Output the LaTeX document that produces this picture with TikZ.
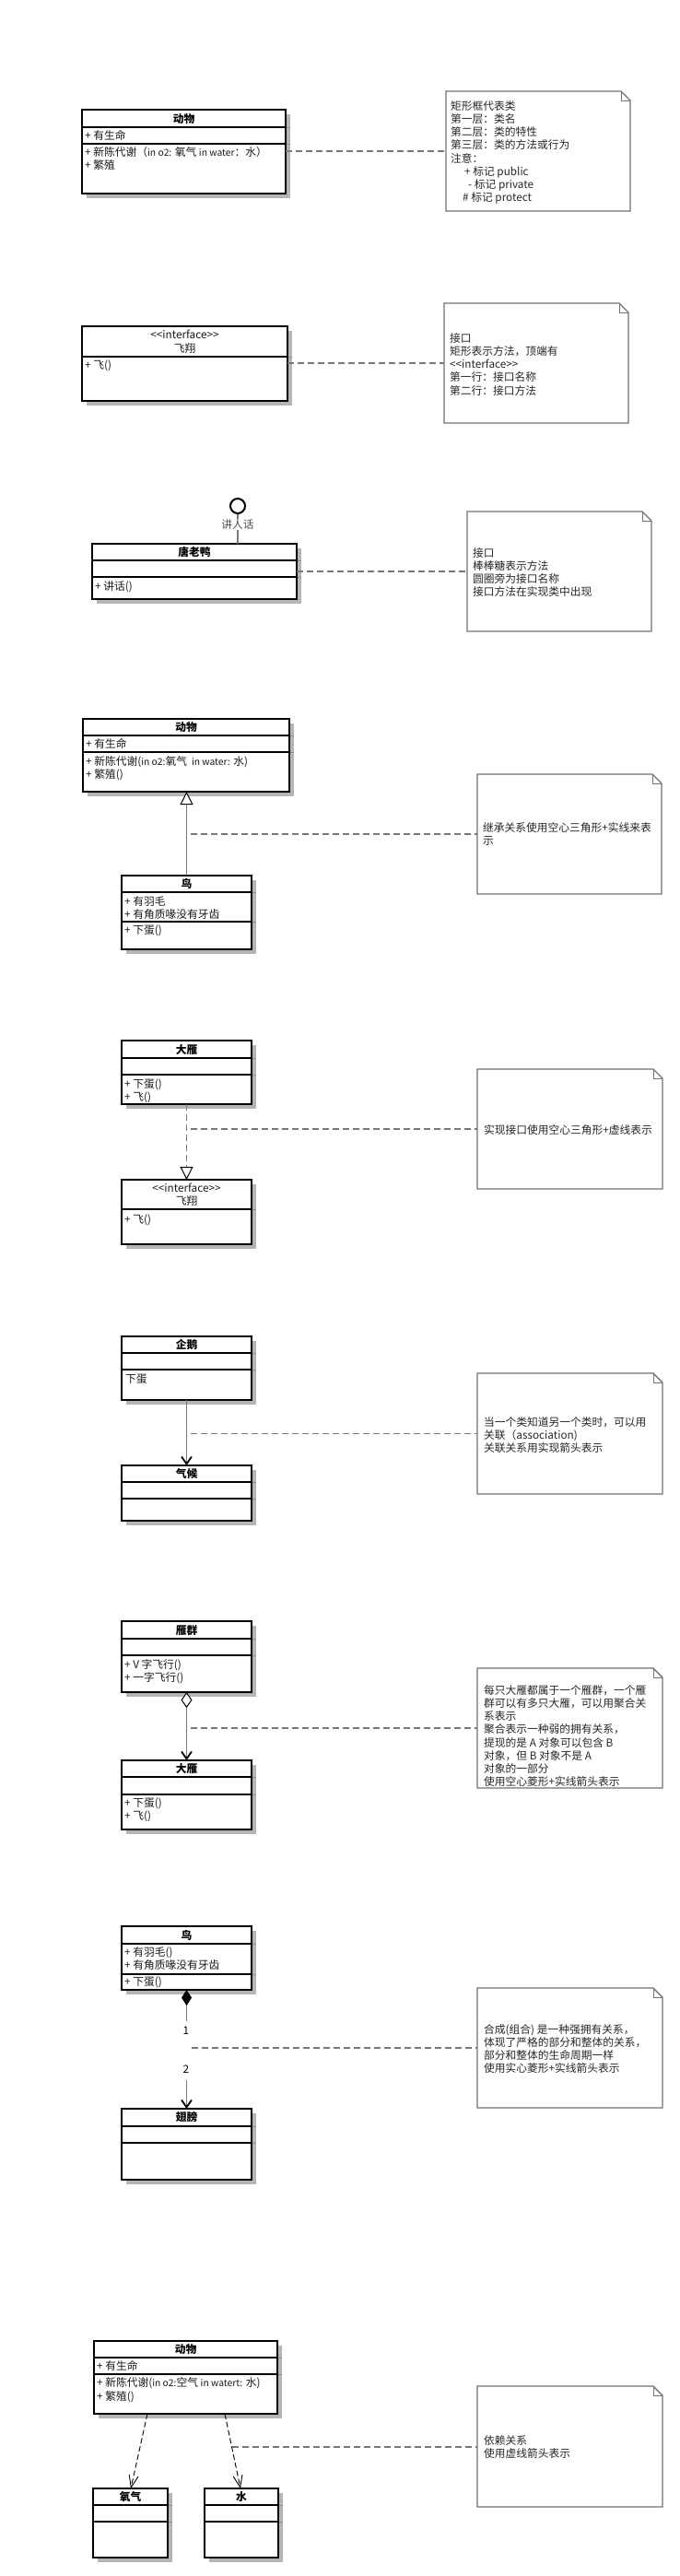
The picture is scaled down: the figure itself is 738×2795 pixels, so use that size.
\documentclass[tikz,border=0pt]{standalone}
\usepackage{fontspec}
\newfontfamily\cjk{Noto Sans CJK SC}
\usetikzlibrary{arrows.meta,shadows,calc}
\definecolor{shd}{gray}{0.71}
\definecolor{lnk}{gray}{0.47}
\definecolor{stubc}{gray}{0.55}
\newcount\tcnt
\tikzset{
  cls/.style={draw=black, line width=2.2pt, fill=white, inner sep=0pt, outer sep=0pt,
    drop shadow={shadow xshift=5pt, shadow yshift=-5pt, fill=shd, opacity=1, draw=none}},
  divider/.style={draw=black, line width=1.7pt},
  stub/.style={draw=stubc, line width=1pt},
  ctxt/.style={inner sep=0pt, font=\cjk\fontsize{11.75}{14}\selectfont, text=black!90},
  ttl/.style={inner sep=0pt, font=\cjk\bfseries\fontsize{11.75}{14}\selectfont, text=black},
  ntxt/.style={inner sep=0pt, font=\cjk\fontsize{11.75}{14}\selectfont, text=black!85},
  notebox/.style={inner sep=0pt, outer sep=0pt, draw=none},
  noteline/.style={draw=black!55, line width=1.4pt, line join=miter},
  foldline/.style={draw=black!55, line width=0.9pt},
  notelink/.style={draw=lnk, line width=1.7pt, dash pattern=on 7pt off 4pt},
  rel/.style={draw=lnk, line width=1.7pt},
  hollowtri/.style={-{Triangle[color=black, fill=white, line width=1pt, length=14pt, width=14pt]}},
  barb/.style={-{Straight Barb[color=black, line width=1.8pt, length=8pt, width=11pt]}},
  dep/.style={draw=black, line width=0.9pt, dash pattern=on 6pt off 3pt,
    -{Straight Barb[line width=0.9pt, length=13pt, width=10pt]}},
}
\newcommand\umlclass[6]{%
  \pgfmathsetmacro\bw{#4-#2}\pgfmathsetmacro\bh{#5-#3}%
  \node[cls, minimum width=\bw pt, minimum height=\bh pt, anchor=north west] (#1) at (#2,#3) {};
  \foreach \dy in {#6}{\draw[divider] (#2,\dy) -- (#4,\dy); \draw[stub] ({#4+1.1},\dy) -- ({#4+5},\dy);}%
}
\newcommand\ctl[3]{\global\advance\tcnt by 1 \node[ctxt, anchor=base west] (txt\the\tcnt) at (#1,{#2+4.4}) {#3};}
\newcommand\ctc[3]{\global\advance\tcnt by 1 \node[ctxt, anchor=base] (txt\the\tcnt) at (#1,{#2+4.4}) {#3};}
\newcommand\ctt[3]{\global\advance\tcnt by 1 \node[ttl, anchor=base] (txt\the\tcnt) at (#1,{#2+4.4}) {#3};}
\newcommand\umlnote[5]{%
  \pgfmathsetmacro\bw{#4-#2}\pgfmathsetmacro\bh{#5-#3}%
  \node[notebox, minimum width=\bw pt, minimum height=\bh pt, anchor=north west] (#1) at (#2,#3) {};
  \draw[noteline] (#1.north west) -- ([xshift=-10pt]#1.north east) -- ([yshift=-10pt]#1.north east) -- (#1.south east) -- (#1.south west) -- cycle;
  \draw[foldline] ([xshift=-10pt]#1.north east) |- ([yshift=-10pt]#1.north east);
}
\newcommand\notetext[3]{\foreach \ln [count=\i from 0] in {#3}{\global\advance\tcnt by 1 \node[ntxt, anchor=base west] (txt\the\tcnt) at (#1,{#2+4.4+14.15*\i}) {\ln};}}
\newcommand\sm[1]{{\fontsize{10.3}{14}\selectfont #1}}

\begin{document}
\begin{tikzpicture}[x=1pt, y=-1pt]
\fill[white] (0,0) rectangle (738,2795);
\useasboundingbox (0,0) rectangle (738,2795);

% ---------- Section 1: class ----------
\umlclass{animalA}{89}{119}{310}{210}{138,156}
\ctt{199.5}{129}{动物}
\ctl{92}{147}{+ 有生命}
\ctl{92}{165}{+ 新陈代谢（\sm{in o2:} 氧气 \sm{in water}：水）}
\ctl{92}{179}{+ 繁殖}
\umlnote{noteA}{484}{99}{684}{229}
\notetext{489}{115}{矩形框代表类, 第一层：类名, 第二层：类的特性, 第三层：类的方法或行为, 注意：, \hspace*{15pt}+ 标记 public, \hspace*{19pt}- 标记 private, \hspace*{13pt}\# 标记 protect}
\draw[notelink] (animalA.east |- noteA.west) -- (noteA.west);

% ---------- Section 2: interface ----------
\umlclass{flyA}{89}{354}{312}{435}{387}
\ctc{200.5}{363}{<{}<interface>{}>}
\ctc{200.5}{378}{飞翔}
\ctl{92}{396}{+ 飞()}
\umlnote{noteB}{482}{329}{682}{459}
\notetext{488}{367}{接口, 矩形表示方法，顶端有, <{}<interface>{}>, 第一行：接口名称, 第二行：接口方法}
\draw[notelink] (flyA.east |- noteB.west) -- (noteB.west);

% ---------- Section 3: lollipop ----------
\umlclass{tly}{100}{590}{322}{650}{608,626}
\ctt{211}{599}{唐老鸭}
\ctl{103}{636}{+ 讲话()}
\node[draw=black, line width=2pt, circle, minimum size=16pt, inner sep=0pt] (lolli) at (258,549) {};
\draw[rel] (lolli.south) -- (lolli.south |- tly.north);
\node[ctxt, fill=white, inner sep=0.5pt, text=black!70] (lbl) at (258,569) {讲人话};
\umlnote{noteC}{507}{555}{707}{685}
\notetext{513}{600}{接口, 棒棒糖表示方法, 圆圈旁为接口名称, 接口方法在实现类中出现}
\draw[notelink] (tly.east |- noteC.west) -- (noteC.west);

% ---------- Section 4: inheritance ----------
\umlclass{animalB}{90}{780}{314}{859}{798,816}
\ctt{202}{789}{动物}
\ctl{93}{807}{+ 有生命}
\ctl{93}{826}{+ 新陈代谢(\sm{in o2:}氧气 \sm{ in water:} 水)}
\ctl{93}{840}{+ 繁殖()}
\umlclass{birdA}{132}{950}{273}{1030}{968,1000}
\ctt{202.5}{959}{鸟}
\ctl{135}{978}{+ 有羽毛}
\ctl{135}{992}{+ 有角质喙没有牙齿}
\ctl{135}{1009}{+ 下蛋()}
\draw[rel, hollowtri] (birdA.north) -- (birdA.north |- animalB.south);
\umlnote{noteD}{518}{840}{718}{970}
\notetext{524}{898}{继承关系使用空心三角形+实线来表, 示}
\coordinate (sD) at ([xshift=4pt]birdA.north |- noteD.west);
\draw[notelink] (sD) -- (noteD.west);

% ---------- Section 5: realization ----------
\umlclass{gooseA}{132}{1129}{273}{1198}{1148,1166}
\ctt{202.5}{1139}{大雁}
\ctl{135}{1176}{+ 下蛋()}
\ctl{135}{1190}{+ 飞()}
\umlclass{flyB}{132}{1280}{273}{1350}{1312}
\ctc{202.5}{1289}{<{}<interface>{}>}
\ctc{202.5}{1303}{飞翔}
\ctl{135}{1323}{+ 飞()}
\draw[rel, dash pattern=on 7pt off 4pt, hollowtri] (gooseA.south) -- (flyB.north);
\umlnote{noteE}{518}{1160}{719}{1290}
\notetext{525}{1226}{实现接口使用空心三角形+虚线表示}
\coordinate (sE) at ([xshift=4pt]gooseA.south |- noteE.west);
\draw[notelink] (sE) -- (noteE.west);

% ---------- Section 6: association ----------
\umlclass{penguin}{132}{1450}{273}{1519}{1468,1486}
\ctt{202.5}{1459}{企鹅}
\ctl{136}{1496}{下蛋}
\umlclass{climate}{132}{1590}{273}{1650}{1608,1626}
\ctt{202.5}{1599}{气候}
\draw[rel, barb] (penguin.south) -- (climate.north);
\umlnote{noteF}{518}{1490}{719}{1621}
\notetext{525}{1543}{当一个类知道另一个类时，可以用, 关联（association), 关联关系用实现箭头表示}
\coordinate (sF) at ([xshift=4pt]penguin.south |- noteF.west);
\draw[notelink] (sF) -- (noteF.west);

% ---------- Section 7: aggregation ----------
\umlclass{flock}{132}{1759}{273}{1836}{1778,1796}
\ctt{202.5}{1769}{雁群}
\ctl{135}{1806}{+ V 字飞行()}
\ctl{135}{1820}{+ 一字飞行()}
\umlclass{gooseB}{132}{1910}{273}{1985}{1928,1947}
\ctt{202.5}{1919}{大雁}
\ctl{135}{1956}{+ 下蛋()}
\ctl{135}{1970}{+ 飞()}
\draw[rel, {Diamond[color=black, fill=white, line width=1pt, length=17pt, width=12pt]}-{Straight Barb[color=black, line width=1.8pt, length=8pt, width=11pt]}] (flock.south) -- (gooseB.north);
\umlnote{noteG}{518}{1810}{719}{1940}
\notetext{525}{1834}{每只大雁都属于一个雁群，一个雁, 群可以有多只大雁，可以用聚合关, 系表示, 聚合表示一种弱的拥有关系，, 提现的是 A 对象可以包含 B, 对象，但 B 对象不是 A, 对象的一部分, 使用空心菱形+实线箭头表示}
\coordinate (sG) at ([xshift=4pt]flock.south |- noteG.west);
\draw[notelink] (sG) -- (noteG.west);

% ---------- Section 8: composition ----------
\umlclass{birdB}{132}{2090}{273}{2159}{2109,2142}
\ctt{202.5}{2100}{鸟}
\ctl{135}{2118}{+ 有羽毛()}
\ctl{135}{2132}{+ 有角质喙没有牙齿}
\ctl{135}{2150}{+ 下蛋()}
\umlclass{wing}{132}{2288}{273}{2365}{2307,2325}
\ctt{202.5}{2297}{翅膀}
\coordinate (c1) at ([yshift=-34pt]birdB.south);
\coordinate (c2) at ([yshift=31pt]wing.north);
\draw[rel, {Diamond[color=black, line width=0.5pt, length=17pt, width=11pt]}-] (birdB.south) -- (c1);
\draw[rel, barb] (c2) -- (wing.north);
\node[ctxt, text=black] (m1) at (202,2203) {1};
\node[ctxt, text=black] (m2) at (202,2245) {2};
\umlnote{noteH}{518}{2157}{719}{2287}
\notetext{525}{2202}{合成(组合) 是一种强拥有关系，, 体现了严格的部分和整体的关系，, 部分和整体的生命周期一样, 使用实心菱形+实线箭头表示}
\coordinate (sH) at ([xshift=5pt]birdB.south |- noteH.west);
\draw[notelink] (sH) -- (noteH.west);

% ---------- Section 9: dependency ----------
\umlclass{animalC}{102}{2540}{301}{2619}{2558,2576}
\ctt{201.5}{2549}{动物}
\ctl{105}{2567}{+ 有生命}
\ctl{105}{2585}{+ 新陈代谢(\sm{in o2:}空气 \sm{in watert:} 水)}
\ctl{105}{2600}{+ 繁殖()}
\umlclass{oxygen}{101}{2700}{182}{2775}{2718,2736}
\ctt{141.5}{2709}{氧气}
\umlclass{water}{222}{2700}{302}{2775}{2718,2736}
\ctt{262}{2709}{水}
\coordinate (d1s) at ([xshift=58pt]animalC.south west);
\coordinate (d1e) at ([xshift=41pt]oxygen.north west);
\coordinate (d2s) at ([xshift=142pt]animalC.south west);
\coordinate (d2e) at ([xshift=39pt]water.north west);
\draw[dep] (d1s) -- (d1e);
\draw[dep] (d2s) -- (d2e);
\umlnote{noteI}{518}{2589}{719}{2720}
\notetext{525}{2648}{依赖关系, 使用虚线箭头表示}
\coordinate (sI) at ($(d2s)!0.444!(d2e)$);
\draw[notelink] (sI) -- (sI -| noteI.west);
\end{tikzpicture}
\end{document}
